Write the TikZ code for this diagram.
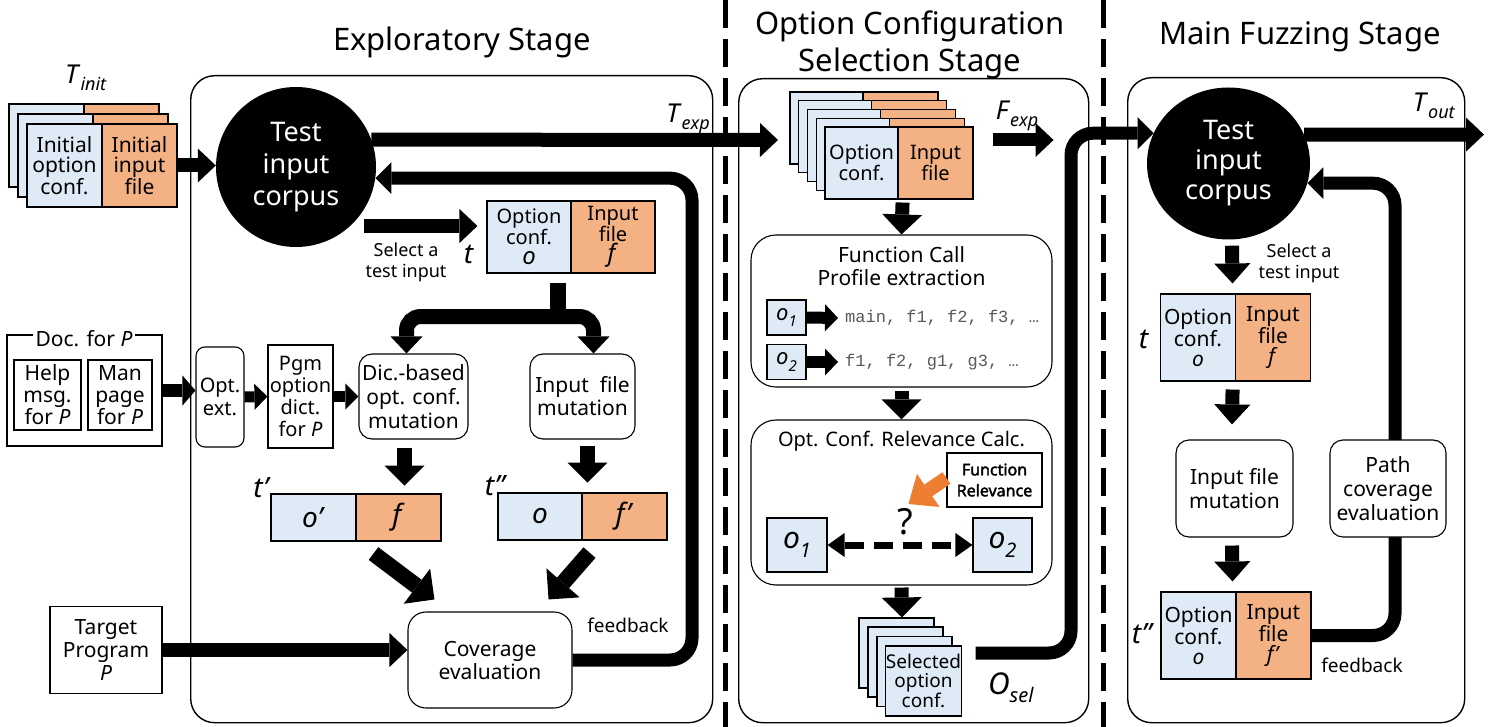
\documentclass[tikz,border=0pt]{standalone}
\usepackage{fontspec}
\setmainfont{Noto Sans}
\newfontfamily\monof{Liberation Mono}
\newfontfamily\boldf{Noto Sans}[FakeBold=2.2]
\usetikzlibrary{arrows.meta,calc,shapes.geometric}
\definecolor{cblue}{HTML}{DEEBF7}
\definecolor{corange}{HTML}{F4B183}
\definecolor{carrow}{HTML}{ED7D31}
\newcommand\fsz[2]{\fontsize{#1}{#2}\selectfont}
\newcommand\lab[3]{\textit{#1}\raisebox{-0.28em}{\fsz{#3}{#3}\textit{#2}}}
\begin{document}
\begin{tikzpicture}[x=1pt,y=-1pt,line join=miter,
 stage/.style={draw, line width=1.4pt, rounded corners=24pt, inner sep=0pt, anchor=north west},
 rbox/.style={draw, line width=1.1pt, rounded corners=13pt, fill=white, align=center, inner sep=1pt},
 sqbox/.style={draw, line width=1.1pt, fill=white, align=center, inner sep=1pt},
 bcell/.style={draw, line width=1.1pt, fill=cblue, align=center, inner sep=0pt},
 ocell/.style={draw, line width=1.1pt, fill=corange, align=center, inner sep=0pt},
 txt/.style={align=center, inner sep=0pt},
 card/.style={draw, line width=1.1pt},
 fat/.style={line width=14pt, -{Triangle[length=18pt,width=34pt,line width=0pt]}},
 mid/.style={line width=11pt, -{Triangle[length=13pt,width=26pt,line width=0pt]}},
 down/.style={line width=15pt, -{Triangle[length=20pt,width=40pt,line width=0pt]}},
 branch/.style={line width=15pt, rounded corners=14pt, -{Triangle[length=17pt,width=32pt,line width=0pt]}},
 fb/.style={line width=13pt, rounded corners=22pt, -{Triangle[length=16pt,width=32pt,line width=0pt]}},
 sep/.style={line width=5pt, dash pattern=on 28pt off 11pt},
]
\useasboundingbox (0,0) rectangle (1496,727);
% stage boxes
\node[stage, minimum width=522, minimum height=647] (stA) at (190,75) {};
\node[stage, minimum width=350, minimum height=644] (stB) at (738,78) {};
\node[stage, minimum width=337, minimum height=645] (stC) at (1127,77) {};
\draw[sep] (725,0) -- (725,727);
\draw[sep] (1103,0) -- (1103,727);
% titles
\node[txt, font=\fsz{31}{36}] (ttlA) at (462,42) {Exploratory Stage};
\node[txt, font=\fsz{31}{37}] (ttlB) at (910,45) {Option Configuration\\Selection Stage};
\node[txt, font=\fsz{31}{36}] (ttlC) at (1300,37) {Main Fuzzing Stage};

% ---------- Exploratory stage ----------
\foreach \k in {0,1} {
  \filldraw[card, fill=cblue] (9+9*\k,104+10*\k) rectangle ++(75,83);
  \filldraw[card, fill=corange] (84+9*\k,104+10*\k) rectangle ++(75,83);
}
\node[bcell, minimum width=75, minimum height=83, font=\fsz{21}{20}] (initO) at (64.5,165.5) {Initial\\option\\conf.};
\node[ocell, minimum width=75, minimum height=83, font=\fsz{21}{20}] (initF) at (139.5,165.5) {Initial\\input\\file};
\node[txt, font=\fsz{26}{26}] (Tinit) at (86,78) {\lab{T}{init}{18}};

\node[circle, fill=black, text=white, minimum size=160, inner sep=0pt, align=center, font=\fsz{27}{32}] (corpus1) at (296,167) {Test\\input\\corpus};
\draw[fat] (initF.east) -- (initF.east -| corpus1.west);

\node[bcell, minimum width=84, minimum height=72, font=\fsz{20}{20.5}] (tO) at (529,237) {Option\\conf.\\\fsz{24}{20.5}\textit{o}};
\node[ocell, minimum width=84, minimum height=72, font=\fsz{20}{20.5}] (tF) at (613,237) {Input\\file\\\fsz{24}{20.5}\textit{f}};
\node[txt, font=\fsz{28}{28}] (tlab) at (469,254) {\textit{t}};
\draw[fat] ($(corpus1.center)+(68,59)$) -- ($(tO.west)+(-9,-11)$);
\node[txt, font=\fsz{18}{21}] (sel1) at (406,262) {Select a\\test input};

\node[rbox, minimum width=109, minimum height=85, font=\fsz{21}{24}] (dic) at (413.5,396.5) {Dic.-based\\opt. conf.\\mutation};
\node[rbox, minimum width=105, minimum height=85, font=\fsz{21}{23}] (ifm) at (582.5,396.5) {Input\ \ file\\mutation};
\coordinate (brS) at ($(tF.south west)+(-12,9)$);
\coordinate (brJ) at ($(brS)+(0,34)$);
\draw[line width=16pt] (brS) -- ($(brJ)+(0,7.5)$);
\draw[branch] (brJ) -| ($(dic.north)+(-7,0)$);
\draw[branch] (brJ) -| ($(ifm.north)+(11,0)$);

\node[draw, line width=1.1pt, minimum width=155, minimum height=111, inner sep=0pt] (docf) at (84.5,390.5) {};
\node[fill=white, inner sep=3pt, font=\fsz{21}{21}] (docl) at (84,339) {Doc. for \textit{P}};
\node[sqbox, minimum width=67, minimum height=70, font=\fsz{21}{22}] (help) at (47.5,395) {Help\\msg.\\for \textit{P}};
\node[sqbox, minimum width=64, minimum height=70, font=\fsz{21}{22}] (man) at (120,395) {Man\\page\\for \textit{P}};
\node[rbox, rounded corners=9pt, minimum width=48, minimum height=100, font=\fsz{20}{23}] (optx) at (220,397) {Opt.\\ext.};
\node[sqbox, minimum width=65, minimum height=103, font=\fsz{20}{22}] (pgm) at (300.5,396.5) {Pgm\\option\\dict.\\for \textit{P}};
\draw[line width=13pt, -{Triangle[length=13pt,width=30pt,line width=0pt]}] (docf.east) -- (docf.east -| optx.west);
\draw[mid] (optx.east) -- (pgm.west);
\draw[mid] (pgm.east) -- (dic.west);

\draw[down] ($(dic.south)+(-9,8)$) -- ++(0,38);
\draw[down] ($(ifm.south)+(5,6)$) -- ++(0,37);

\node[bcell, minimum width=85, minimum height=47, font=\fsz{28}{28}] (tpO) at (313.5,517.5) {\textit{o'}};
\node[ocell, minimum width=85, minimum height=47, font=\fsz{28}{28}] (tpF) at (398.5,517.5) {\textit{f}};
\node[bcell, minimum width=84, minimum height=47, font=\fsz{28}{28}] (tppO) at (540,516.5) {\textit{o}};
\node[ocell, minimum width=85, minimum height=47, font=\fsz{28}{28}] (tppF) at (624.5,516.5) {\textit{f'}};
\node[txt, font=\fsz{28}{28}] (tpl) at (262,488) {\textit{t'}};
\node[txt, font=\fsz{28}{28}] (tppl) at (496,486) {\textit{t''}};

\node[rbox, rounded corners=18pt, minimum width=164, minimum height=96, font=\fsz{21}{23}] (cov) at (490,660) {Coverage\\evaluation};
\node[sqbox, minimum width=112, minimum height=87, font=\fsz{21}{23}] (target) at (106,650) {Target\\Program\\\textit{P}};
\draw[fat] (target.east) -- (target.east -| cov.west);
\draw[down, line width=16pt, -{Triangle[length=22pt,width=44pt,line width=0pt]}] ($(tpF.south)+(-25,12)$) -- ($(cov.north west)+(27,-12)$);
\draw[down, line width=16pt, -{Triangle[length=22pt,width=44pt,line width=0pt]}] ($(tppF.south)+(-35,12)$) -- ($(cov.north east)+(-24,-12)$);

\coordinate (fbX) at (692,0);
\draw[fb] (cov.east) -- (cov.east -| fbX) -- (fbX |- corpus1.-8) -- (corpus1.-8);
\node[txt, font=\fsz{19}{19}] (fbl1) at (628,625) {feedback};

\coordinate (texpEnd) at (778,140);
\draw[fat] (corpus1.20) -- (texpEnd);
\node[txt, font=\fsz{26}{26}] (Texp) at (688,119) {\lab{T}{exp}{18}};

% ---------- Option configuration selection stage ----------
\foreach \k in {0,...,3} {
  \filldraw[card, fill=cblue] (790+8.75*\k,92+8.75*\k) rectangle ++(73,72);
  \filldraw[card, fill=corange] (863+8.75*\k,92+8.75*\k) rectangle ++(75,72);
}
\node[bcell, minimum width=73, minimum height=72, font=\fsz{20}{21}] (ocO) at (861.5,163) {Option\\conf.};
\node[ocell, minimum width=75, minimum height=72, font=\fsz{20}{21}] (ocF) at (935.5,163) {Input\\file};
\draw[fat, line width=13pt] ($(ocF.east)+(19,-23)$) -- ++(61,0);
\node[txt, font=\fsz{26}{26}] (Fexp) at (1017,116) {\lab{F}{exp}{18}};

\node[rbox, rounded corners=25pt, minimum width=301, minimum height=152] (fcp) at (901.5,311) {};
\draw[down, line width=14pt] ($(ocO.south east)+(4,3)$) -- (fcp.north);
\node[txt, font=\fsz{21}{23}] (fcpT) at (901.5,266) {Function Call\\Profile extraction};
\node[bcell, minimum width=39, minimum height=35, font=\fsz{22}{22}] (o1s) at (786.5,317.5) {\lab{o}{1}{15}};
\node[bcell, minimum width=39, minimum height=35, font=\fsz{22}{22}] (o2s) at (786.5,362) {\lab{o}{2}{15}};
\node[anchor=west, inner sep=0pt, font=\monof\fsz{17}{17}, text=black!65] (l1) at (845,318) {main, f1, f2, f3, …};
\node[anchor=west, inner sep=0pt, font=\monof\fsz{17}{17}, text=black!65] (l2) at (845,362) {f1, f2, g1, g3, …};
\draw[line width=12pt, -{Triangle[length=13pt,width=27pt,line width=0pt]}] (o1s.east) -- ($(l1.west)+(-7,0)$);
\draw[line width=12pt, -{Triangle[length=13pt,width=27pt,line width=0pt]}] (o2s.east) -- ($(l2.west)+(-7,0)$);

\node[rbox, rounded corners=25pt, minimum width=301, minimum height=165] (ocr) at (901.5,502.5) {};
\draw[down, line width=14pt] ($(fcp.south)+(0,3)$) -- (ocr.north);
\node[txt, font=\fsz{20}{20}] (ocrT) at (901.5,441) {Opt. Conf. Relevance Calc.};
\node[sqbox, minimum width=95, minimum height=54, font=\boldf\fsz{16}{21}] (frel) at (994.5,480) {Function\\Relevance};
\node[bcell, minimum width=60, minimum height=54, font=\fsz{30}{30}] (o1b) at (797,545) {\lab{o}{1}{20}};
\node[bcell, minimum width=59, minimum height=54, font=\fsz{30}{30}] (o2b) at (1002.5,545) {\lab{o}{2}{20}};
\draw[line width=7pt, dash pattern=on 19pt off 10pt, {Triangle[length=17pt,width=24pt,line width=0pt]}-{Triangle[length=17pt,width=24pt,line width=0pt]}] (o1b.east) -- (o2b.west);
\node[txt, font=\fsz{36}{36}] (qm) at (905,522) {?};
\draw[carrow, line width=14pt, -{Triangle[length=24pt,width=40pt,line width=0pt]}] ($(frel.west)+(0,-2)$) -- ++(-38,26);

\foreach \dx/\dy in {0/0, 9/9, 18/18.5} {
  \filldraw[card, fill=cblue] (859+\dx,618+\dy) rectangle ++(75,70);
}
\node[bcell, minimum width=75, minimum height=70, font=\fsz{19}{18.5}] (selF) at (923.5,681) {Selected\\option\\conf.};
\draw[down, line width=14pt] ($(ocr.south)+(0,2)$) -- ($(selF.north)+(-21.5,-28)$);
\node[txt, font=\fsz{30}{30}] (Osel) at (1011,688) {\lab{O}{sel}{20}};

% ---------- Main fuzzing stage ----------
\node[ellipse, fill=black, text=white, minimum width=163, minimum height=152, inner sep=0pt, align=center, font=\fsz{27}{30}] (corpus2) at (1228.5,163.5) {Test\\input\\corpus};
\coordinate (osX) at (1071,0);
\coordinate (osS) at ($(selF.east)+(14,-28)$);
\draw[fb] (osS) -- (osS -| osX) -- (osX |- corpus2.158) -- (corpus2.158);

\coordinate (toutEnd) at (1484,134.6);
\draw[fat] (corpus2.21) -- (toutEnd);
\node[txt, font=\fsz{26}{26}] (Tout) at (1434,106) {\lab{T}{out}{18}};

\node[bcell, minimum width=75, minimum height=87, font=\fsz{21}{20}] (rtO) at (1198,337.5) {Option\\conf.\\\textit{o}};
\node[ocell, minimum width=75, minimum height=87, font=\fsz{21}{20}] (rtF) at (1273,337.5) {Input\\file\\\textit{f}};
\draw[down, line width=14pt, -{Triangle[length=20pt,width=36pt,line width=0pt]}] ($(corpus2.south)+(3.5,6)$) -- ($(rtO.north east)+(-3.5,-10)$);
\node[txt, font=\fsz{18}{21}] (sel2) at (1299,263) {Select a\\test input};
\node[txt, font=\fsz{28}{28}] (rtl) at (1144,339) {\textit{t}};

\node[rbox, minimum width=117, minimum height=97, font=\fsz{21}{23.5}] (rmut) at (1234.5,488.5) {Input file\\mutation};
\draw[down, line width=14pt, -{Triangle[length=20pt,width=36pt,line width=0pt]}] ($(rtO.south east)+(-3.5,8)$) -- ($(rmut.north)+(-2.5,-15)$);
\node[bcell, minimum width=75, minimum height=87, font=\fsz{21}{20}] (rtpO) at (1198.5,635.5) {Option\\conf.\\\textit{o}};
\node[ocell, minimum width=75, minimum height=87, font=\fsz{21}{20}] (rtpF) at (1273.5,635.5) {Input\\file\\\textit{f'}};
\draw[down, line width=14pt, -{Triangle[length=20pt,width=36pt,line width=0pt]}] ($(rmut.south)+(-2.5,8)$) -- ($(rtpO.north east)+(-4,-10)$);
\node[txt, font=\fsz{28}{28}] (rtpl) at (1143,634) {\textit{t''}};

\coordinate (fbX2) at (1395,0);
\draw[fb] (rtpF.east) -- (rtpF.east -| fbX2) -- (fbX2 |- corpus2.-14) -- (corpus2.-14);
\node[rbox, minimum width=116, minimum height=97, font=\fsz{21}{24}] (rpath) at (1388,488.5) {Path\\coverage\\evaluation};
\node[txt, font=\fsz{19}{19}] (fbl2) at (1362,665) {feedback};
\end{tikzpicture}
\end{document}
